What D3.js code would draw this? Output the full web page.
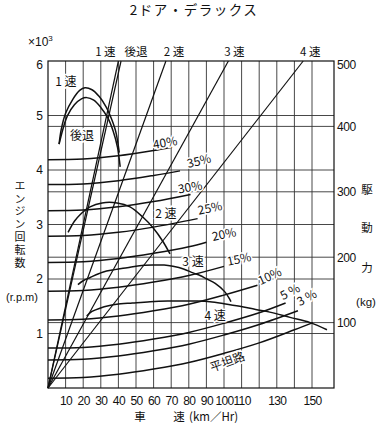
<!DOCTYPE html>
<html>
<head>
<meta charset="utf-8">
<script src="https://cdn.jsdelivr.net/npm/d3@7"></script>
<style>
    body { margin: 0; background: #fff; }
    text { font-family: "Liberation Sans", "Noto Sans CJK JP", sans-serif; fill: #111; }
    .jp { font-family: "Noto Sans CJK JP", "Liberation Sans", sans-serif; }
</style>
</head>
<body>
<div id="main"></div>
<script>
// axes
const speedTicks = [10, 20, 30, 40, 50, 60, 70, 80, 90, 100, 110, 130, 150];
const speedGrid = [10, 20, 30, 40, 50, 60, 70, 80, 90, 100, 110, 120, 130, 140, 150];
const rpmTicks = [1, 2, 3, 4, 5, 6];
const kgTicks = [100, 200, 300, 400, 500];

// gear lines: speed (km/h) reached at 6000 rpm
const gearNames = ["1 速", "後退", "2 速", "3 速", "4 速"];
const gearTopSpeed = [40, 41.5, 67, 102.5, 145];

// driving force per gear [km/h, kg]
const force1st = [[6.3, 373], [7.5, 395], [10, 420], [14, 441], [18, 455], [21, 459], [25, 456], [29, 446], [33, 430], [36, 412], [38.5, 392], [40.5, 360]];
const forceRev = [[6.3, 373], [8.5, 396], [11, 416], [15, 433], [19, 442], [22, 444], [26, 440], [30, 429], [34, 413], [37, 393], [39.5, 368], [41, 338]];
const force2nd = [[11.4, 238], [15, 255], [18.2, 265], [23.9, 277], [30.7, 283], [39.2, 283], [46.6, 277], [54, 261], [59.7, 245], [65.3, 224], [69.3, 205]];
const force3rd = [[17, 158], [20, 164], [24, 169], [31, 177], [38, 181], [45, 184], [52, 187], [60, 188], [66, 188], [71, 186], [77, 182], [82.4, 176], [86.4, 172], [90, 167], [95, 160], [100.5, 147], [104, 132]];
const force4th = [[22, 110], [25, 117], [29.5, 122], [35, 126], [39, 128], [48, 130], [58, 132], [68, 133], [77, 133], [85, 133], [92, 132], [100, 129], [109, 125], [118, 120], [126, 116], [137.5, 108], [149, 100], [158.5, 89]];

// running resistance per gradient [km/h, kg]
const gradeNames = ["平坦路", "3 %", "5 %", "10%", "15%", "20%", "25%", "30%", "35%", "40%"];
const resFlat = [[0, 15], [20, 16], [40, 21], [60, 29], [80, 39], [100, 53], [120, 69], [140, 89], [150.5, 100]];
const res3 = [[0, 43], [20, 44], [40, 49], [60, 57], [80, 67], [100, 81], [120, 97], [142, 118]];
const res5 = [[0, 61], [20, 62], [40, 67], [60, 75], [80, 85], [100, 99], [120, 115], [135, 130]];
const res10 = [[0, 104], [20, 105], [40, 110], [60, 118], [80, 128], [100, 142], [119, 157]];
const res15 = [[0, 148], [20, 149], [40, 154], [60, 162], [80, 172], [100, 186]];
const res20 = [[0, 192], [20, 193], [40, 198], [60, 206], [80, 216], [90, 223]];
const res25 = [[0, 232], [20, 233], [40, 238], [60, 246], [85, 259]];
const res30 = [[0, 271], [20, 272], [40, 277], [60, 285], [81, 296]];
const res35 = [[0, 311], [20, 312], [40, 317], [60, 325], [75, 332]];
const res40 = [[0, 349], [20, 350], [40, 355], [60, 363], [70.5, 368]];

const ctx = {
    w: 383,
    h: 426,
    left: 48,
    right: 334,
    top: 61,
    bottom: 388,
};

function createViz() {
    let svg = d3.select("#main").append("svg")
        .attr("width", ctx.w)
        .attr("height", ctx.h);

    let x = d3.scaleLinear().domain([0, 162.5]).range([ctx.left, ctx.right]);
    let yRpm = d3.scaleLinear().domain([0, 6]).range([ctx.bottom, ctx.top]);
    let yKg = d3.scaleLinear().domain([0, 500]).range([ctx.bottom, ctx.top]);

    // title
    svg.append("text")
        .attr("class", "jp")
        .attr("x", 194).attr("y", 15)
        .attr("text-anchor", "middle")
        .style("font-size", "13.5px")
        .style("letter-spacing", "1.5px")
        .text("2ドア・デラックス");

    /* grid */
    let grid = svg.append("g").style("stroke", "#333").style("stroke-width", 0.9);
    grid.selectAll(".vg").data(speedGrid).enter().append("line")
        .attr("x1", d => x(d)).attr("x2", d => x(d))
        .attr("y1", ctx.top).attr("y2", ctx.bottom);
    grid.selectAll(".hr").data(rpmTicks.slice(0, 5)).enter().append("line")
        .attr("x1", ctx.left).attr("x2", ctx.right)
        .attr("y1", d => yRpm(d)).attr("y2", d => yRpm(d));
    grid.selectAll(".hk").data(kgTicks.slice(0, 4)).enter().append("line")
        .attr("x1", ctx.left).attr("x2", ctx.right)
        .attr("y1", d => yKg(d)).attr("y2", d => yKg(d));

    svg.append("rect")
        .attr("x", ctx.left).attr("y", ctx.top)
        .attr("width", ctx.right - ctx.left)
        .attr("height", ctx.bottom - ctx.top)
        .style("fill", "none").style("stroke", "#111").style("stroke-width", 1.2);

    /* axes */
    let ax = svg.append("g").attr("transform", `translate(0,${ctx.bottom})`)
        .call(d3.axisBottom(x).tickValues(speedTicks).tickSize(0).tickPadding(8));
    let ayl = svg.append("g").attr("transform", `translate(${ctx.left},0)`)
        .call(d3.axisLeft(yRpm).tickValues(rpmTicks).tickFormat(d3.format("d")).tickSize(0).tickPadding(5));
    let ayr = svg.append("g").attr("transform", `translate(${ctx.right},0)`)
        .call(d3.axisRight(yKg).tickValues(kgTicks).tickSize(0).tickPadding(3));
    [ax, ayl, ayr].forEach(a => {
        a.select(".domain").remove();
        a.selectAll("text")
            .style("font-family", "'Liberation Sans', sans-serif")
            .style("font-size", "12px").style("fill", "#111");
    });
    ax.selectAll("text").style("letter-spacing", "-0.6px");
    ayr.selectAll("text").style("letter-spacing", "-0.4px");
    ayl.selectAll(".tick").filter(d => d == 6).select("text").attr("dy", "0.6em");
    ayr.selectAll(".tick").filter(d => d == 500).select("text").attr("dy", "0.6em");

    // axis titles
    svg.append("text").attr("x", 28).attr("y", 46)
        .style("font-size", "12px")
        .html('×10<tspan dy="-5" style="font-size:8px">3</tspan>');

    svg.append("text")
        .attr("class", "jp")
        .attr("x", 20).attr("y", 180)
        .style("writing-mode", "vertical-rl")
        .style("font-size", "11px")
        .style("letter-spacing", "1.9px")
        .text("エンジン回転数");
    svg.append("text").attr("x", 22).attr("y", 301)
        .attr("text-anchor", "middle").style("font-size", "11px")
        .text("(r.p.m)");

    let rightTitle = [["駆", 194], ["動", 232], ["力", 272]];
    svg.selectAll(".rt").data(rightTitle).enter().append("text")
        .attr("class", "jp")
        .attr("x", 367).attr("y", d => d[1])
        .attr("text-anchor", "middle")
        .style("font-size", "11.5px")
        .text(d => d[0]);
    svg.append("text").attr("x", 366).attr("y", 306)
        .attr("text-anchor", "middle").style("font-size", "11.5px")
        .text("(kg)");

    svg.append("text").attr("class", "jp").attr("x", 140).attr("y", 421)
        .attr("text-anchor", "middle").style("font-size", "11.5px").text("車");
    svg.append("text").attr("class", "jp").attr("x", 179).attr("y", 421)
        .attr("text-anchor", "middle").style("font-size", "11.5px").text("速");
    svg.append("text").attr("class", "jp").attr("x", 189).attr("y", 421)
        .style("font-size", "11.5px").text("(km／Hr)");

    /* gear lines */
    let gears = svg.append("g").style("stroke", "#111").style("stroke-width", 1.2);
    gears.selectAll("line").data(gearTopSpeed).enter().append("line")
        .attr("x1", x(0)).attr("y1", yRpm(0))
        .attr("x2", d => x(d)).attr("y2", yRpm(6));

    let topOffset = [-13, 15, 8, 6, 7];
    svg.selectAll(".gl").data(gearNames).enter().append("text")
        .attr("class", "jp")
        .attr("x", (d, i) => x(gearTopSpeed[i]) + topOffset[i])
        .attr("y", 56)
        .attr("text-anchor", "middle")
        .style("font-size", "11.5px")
        .text(d => d);

    /* curves */
    let line = d3.line()
        .x(d => x(d[0]))
        .y(d => yKg(d[1]))
        .curve(d3.curveCatmullRom.alpha(0.5));

    let forces = [force1st, forceRev, force2nd, force3rd, force4th];
    let resists = [resFlat, res3, res5, res10, res15, res20, res25, res30, res35, res40];

    svg.append("g").selectAll("path").data(resists.concat(forces)).enter().append("path")
        .attr("d", line)
        .style("fill", "none")
        .style("stroke", "#111")
        .style("stroke-width", 1.5);

    /* labels, placed in data units [km/h, kg, angle] */
    let gradeSpots = [[102, 40, -20], [147, 138, -28], [137.5, 147, -28], [126, 171, -25], [108.5, 197, -12],
        [100, 235, -12], [92, 275, -12], [80.7, 307, -10], [85.8, 347, -14], [66.5, 375, -10]];
    let gearSpots = [[10.2, 468], [19.3, 385], [67, 266], [82.4, 193], [95, 110]];

    svg.selectAll(".gr").data(gradeNames).enter().append("text")
        .attr("class", "jp")
        .attr("transform", (d, i) => `translate(${x(gradeSpots[i][0])},${yKg(gradeSpots[i][1])}) rotate(${gradeSpots[i][2]})`)
        .attr("text-anchor", "middle")
        .attr("dy", "0.35em")
        .style("font-size", "12px")
        .style("stroke", "#fff").style("stroke-width", 3).style("paint-order", "stroke")
        .text(d => d);

    svg.selectAll(".gi").data(gearNames).enter().append("text")
        .attr("class", "jp")
        .attr("x", (d, i) => x(gearSpots[i][0]))
        .attr("y", (d, i) => yKg(gearSpots[i][1]))
        .attr("text-anchor", "middle")
        .attr("dy", "0.35em")
        .style("font-size", "12px")
        .style("stroke", "#fff").style("stroke-width", 3).style("paint-order", "stroke")
        .text(d => d);
}

createViz();
</script>
</body>
</html>
